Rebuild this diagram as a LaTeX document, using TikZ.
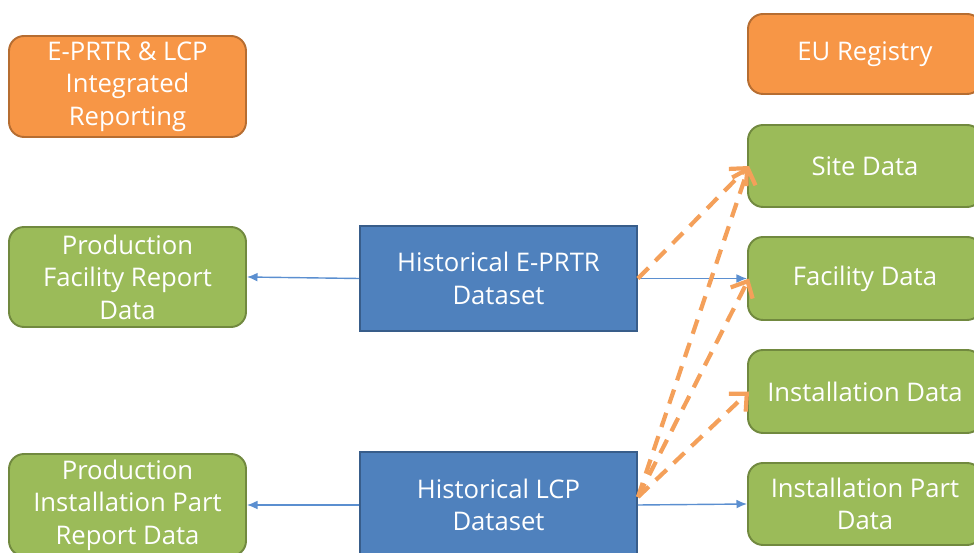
\documentclass[tikz,border=0pt]{standalone}
\usepackage{fontspec}
\setmainfont{Open Sans}
\usetikzlibrary{arrows.meta}
\definecolor{regorange}{HTML}{F79646}
\definecolor{regorangeline}{HTML}{B66D31}
\definecolor{datagreen}{HTML}{9BBB59}
\definecolor{datagreenline}{HTML}{71893F}
\definecolor{setblue}{HTML}{4F81BD}
\definecolor{setblueline}{HTML}{385D8A}
\definecolor{linkblue}{HTML}{5B8FD0}
\definecolor{maporange}{HTML}{F4A05A}
\tikzset{
  box/.style={draw, line width=1.1pt, rounded corners=0.3cm, text=white,
    align=center, font=\fontsize{14.6}{18.5}\selectfont, inner sep=0pt},
  regbox/.style={box, fill=regorange, draw=regorangeline},
  databox/.style={box, fill=datagreen, draw=datagreenline},
  setbox/.style={box, rounded corners=0pt, fill=setblue, draw=setblueline},
  link/.style={draw=linkblue, line width=0.8pt, -{Latex[length=6pt,width=5pt]}},
  mapping/.style={draw=maporange, line width=2.4pt, dash pattern=on 8.5pt off 5.5pt,
    -{Straight Barb[length=7.5pt,width=14pt,line width=2.4pt]}}
}
\begin{document}
\begin{tikzpicture}[x=0.02cm,y=-0.02cm]
  \useasboundingbox (0,0) rectangle (974,553);
  \clip (0,0) rectangle (974,553);
  \node[regbox, minimum width=237*0.02cm, minimum height=101*0.02cm] (integrated)
    at (127.5,86.5) {E-PRTR \& LCP\\Integrated\\Reporting};
  \node[regbox, minimum width=234*0.02cm, minimum height=80*0.02cm] (registry)
    at (865,54) {EU Registry};
  \node[databox, minimum width=237*0.02cm, minimum height=100*0.02cm] (prodfacility)
    at (127.5,277) {Production\\Facility Report\\Data};
  \node[databox, minimum width=237*0.02cm, minimum height=102*0.02cm] (prodinstallation)
    at (127.5,505) {Production\\Installation Part\\Report Data};
  \node[setbox, minimum width=277*0.02cm, minimum height=105*0.02cm] (eprtr)
    at (498.5,278.5) {Historical E-PRTR\\Dataset};
  \node[setbox, minimum width=277*0.02cm, minimum height=106*0.02cm] (lcp)
    at (498.5,505) {Historical LCP\\Dataset};
  \node[databox, minimum width=234*0.02cm, minimum height=82*0.02cm] (site)
    at (865,166) {Site Data};
  \node[databox, minimum width=234*0.02cm, minimum height=83*0.02cm] (facility)
    at (865,278.5) {Facility Data};
  \node[databox, minimum width=234*0.02cm, minimum height=83*0.02cm] (installation)
    at (865,391.5) {Installation Data};
  \node[databox, minimum width=234*0.02cm, minimum height=82*0.02cm] (installationpart)
    at (865,504) {Installation Part\\Data};
  % dataset links
  \draw[link] (eprtr.west) -- (prodfacility.east);
  \draw[link] (eprtr.east) -- (facility.west);
  \draw[link] (lcp.west) -- (prodinstallation.east);
  \draw[link] (lcp.east) -- (installationpart.west);
  % registry mappings
  \coordinate (lcpout) at ([yshift=0.16cm]lcp.east);
  \draw[mapping] (eprtr.east) -- ([xshift=0.04cm]site.west);
  \draw[mapping] (lcpout) -- ([xshift=0.04cm]site.west);
  \draw[mapping] (lcpout) -- ([xshift=0.04cm]facility.west);
  \draw[mapping] (lcpout) -- ([xshift=0.04cm]installation.west);
\end{tikzpicture}
\end{document}
